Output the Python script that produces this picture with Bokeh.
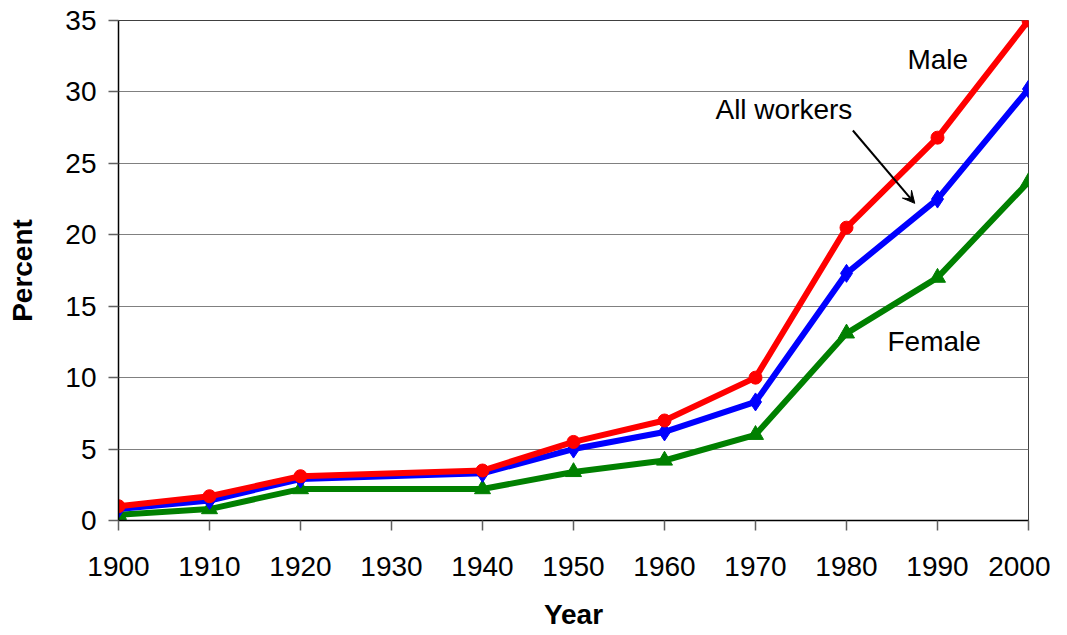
from bokeh.plotting import figure
from bokeh.models import Range1d, FixedTicker, Label, Arrow, VeeHead
from bokeh.embed import file_html
from bokeh.resources import INLINE

# Data
tick_years = [1900, 1910, 1920, 1930, 1940, 1950, 1960, 1970, 1980, 1990, 2000]
years = [1900, 1910, 1920, 1940, 1950, 1960, 1970, 1980, 1990, 2000]
male = [1.0, 1.7, 3.1, 3.5, 5.5, 7.0, 10.0, 20.5, 26.8, 35.0]
all_workers = [0.8, 1.4, 2.9, 3.3, 5.0, 6.2, 8.3, 17.3, 22.5, 30.2]
female = [0.4, 0.8, 2.2, 2.2, 3.4, 4.2, 6.0, 13.1, 17.0, 23.7]
y_ticks = [0, 5, 10, 15, 20, 25, 30, 35]

FONT = "Liberation Sans"

p = figure(width=1050, height=635, output_backend="svg", toolbar_location=None,
           x_range=Range1d(1900, 2000), y_range=Range1d(0, 35))
p.min_border_left = 118
p.min_border_right = 22
p.min_border_top = 20
p.min_border_bottom = 115
p.background_fill_color = "white"
p.border_fill_color = "white"
p.outline_line_color = "#404040"
p.outline_line_width = 1

p.xgrid.grid_line_color = None
p.ygrid.grid_line_color = "#808080"
p.ygrid.grid_line_width = 1

p.xaxis.ticker = FixedTicker(ticks=tick_years)
p.yaxis.ticker = FixedTicker(ticks=y_ticks)
p.xaxis.minor_tick_line_color = None
p.yaxis.minor_tick_line_color = None
for ax in (p.xaxis, p.yaxis):
    ax.axis_line_color = "black"
    ax.axis_line_width = 1.5
    ax.major_tick_line_color = "#606060"
    ax.major_tick_line_width = 1.5
    ax.major_tick_in = 0
    ax.major_tick_out = 10
    ax.major_label_text_font = FONT
    ax.major_label_text_font_size = "28px"
    ax.major_label_text_color = "black"
    ax.axis_label_text_font = FONT
    ax.axis_label_text_font_size = "28px"
    ax.axis_label_text_font_style = "bold"
    ax.axis_label_text_color = "black"

p.xaxis.major_label_standoff = 26
p.yaxis.major_label_standoff = 12
p.xaxis.axis_label = "Year"
p.yaxis.axis_label = "Percent"
p.xaxis.axis_label_standoff = 20
p.yaxis.axis_label_standoff = 24

# Series (draw order: female, all, male on top)
p.line(years, female, line_color="#008000", line_width=6)
p.scatter(years, female, marker="triangle", size=16, fill_color="#008000", line_color="#008000")

p.line(years, all_workers, line_color="#0000FF", line_width=6)
p.scatter(years, all_workers, marker="diamond", size=18, fill_color="#0000FF", line_color="#0000FF")

p.line(years, male, line_color="#FF0000", line_width=6)
p.scatter(years, male, marker="circle", size=13, fill_color="#FF0000", line_color="#FF0000")

# Annotations
lab_kw = dict(text_font=FONT, text_font_size="28px", text_color="black", text_baseline="middle")
p.add_layout(Label(x=1986.7, y=32.3, text="Male", **lab_kw))
p.add_layout(Label(x=1965.6, y=28.8, text="All workers", **lab_kw))
p.add_layout(Label(x=1984.5, y=12.5, text="Female", **lab_kw))
p.add_layout(Arrow(x_start=1980.7, y_start=27.3, x_end=1987.5, y_end=22.2,
                   line_color="black", line_width=2,
                   end=VeeHead(size=12, fill_color="black", line_color="black")))

open("out.html", "w").write(file_html(p, INLINE))
